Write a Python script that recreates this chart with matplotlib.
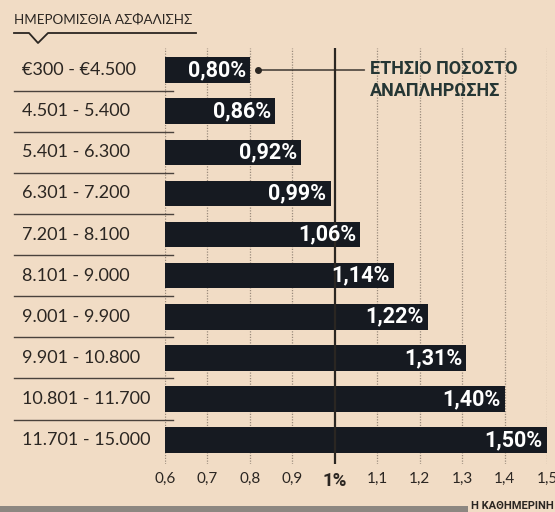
import matplotlib.pyplot as plt
from matplotlib.lines import Line2D
from matplotlib.patches import Rectangle
import matplotlib.transforms as mtransforms

# data
ranges = ['€300 - €4.500', '4.501 - 5.400', '5.401 - 6.300', '6.301 - 7.200',
          '7.201 - 8.100', '8.101 - 9.000', '9.001 - 9.900', '9.901 - 10.800',
          '10.801 - 11.700', '11.701 - 15.000']
rates = [0.80, 0.86, 0.92, 0.99, 1.06, 1.14, 1.22, 1.31, 1.40, 1.50]
tick_values = [0.6, 0.7, 0.8, 0.9, 1.0, 1.1, 1.2, 1.3, 1.4, 1.5]
tick_labels = ['0,6', '0,7', '0,8', '0,9', '1%', '1,1', '1,2', '1,3', '1,4', '1,5']

BG = '#f1dcc5'
BAR = '#161a21'
INK = '#2b2622'
FONT = 'Lato'
BOLD = 'Roboto'

W, H = 555, 512
fig = plt.figure(figsize=(W / 100, H / 100), dpi=100, facecolor=BG)

# axes spans pixel x 165..547, y 48..464
ax = fig.add_axes([165 / W, 1 - 464 / H, (547 - 165) / W, (464 - 48) / H])
ax.set_facecolor(BG)
ax.set_xlim(0.6, 1.5)
ax.set_ylim(9.58, -0.535)
for s in ax.spines.values():
    s.set_visible(False)

# dotted grid
for v in tick_values:
    if v != 1.0:
        ax.axvline(v, color='#9a8b7c', lw=0.9, ls=(0, (1, 1.2)), zorder=1)
ax.axvline(1.0, ymin=0, ymax=1, color='#2a2622', lw=1.6, zorder=3)

ypos = list(range(len(rates)))
ax.barh(ypos, [r - 0.6 for r in rates], left=0.6, height=0.62,
        color=BAR, zorder=2)

for y, r in zip(ypos, rates):
    ax.annotate(f'{r:.2f}%'.replace('.', ','), xy=(r, y), xytext=(-3, 0),
                textcoords='offset points', ha='right', va='center',
                color='white', fontsize=15.5, fontweight='bold',
                family=BOLD, zorder=4)

ax.set_yticks([])
ax.set_xticks(tick_values)
ax.set_xticklabels(tick_labels, family=FONT, color=INK, fontsize=11)
ax.tick_params(axis='x', length=0, pad=6)
for lab in ax.get_xticklabels():
    if lab.get_text() == '1%':
        lab.set_fontweight('bold')
        lab.set_family(BOLD)
        lab.set_fontsize(13.5)

# row labels and separators on the left
trans = mtransforms.blended_transform_factory(fig.transFigure, ax.transData)
for y, name in zip(ypos, ranges):
    ax.text(22 / W, y, name, transform=trans, ha='left', va='center',
            fontsize=13, color=INK, family=FONT)
    if y < len(ranges) - 1:
        ax.add_line(Line2D([14 / W, 173 / W], [y + 0.5, y + 0.5],
                           transform=trans, color='#4a423c', lw=1.0,
                           clip_on=False))

# header with notched underline
fig.text(14 / W, 1 - 20 / H, 'ΗΜΕΡΟΜΙΣΘΙΑ ΑΣΦΑΛΙΣΗΣ', ha='left', va='center',
         fontsize=9.7, color=INK, family=FONT)
fig.add_artist(Line2D([14 / W, 29 / W, 38 / W, 48 / W, 196 / W],
                      [1 - 33 / H, 1 - 33 / H, 1 - 43 / H, 1 - 33 / H, 1 - 33 / H],
                      color=INK, lw=1.3))

# callout for the 1% line
ax.plot([0.82], [0], marker='o', ms=4, color=INK, zorder=5)
ax.annotate('', xy=(0.82, 0), xytext=(1.07, 0),
            arrowprops=dict(arrowstyle='-', color=INK, lw=1.0,
                            shrinkA=0, shrinkB=0), zorder=5)
ax.text(370 / W, 1 - 80 / H, 'ΕΤΗΣΙΟ ΠΟΣΟΣΤΟ\nΑΝΑΠΛΗΡΩΣΗΣ', ha='left',
        va='center', fontsize=13, fontweight='bold', color='#253634',
        family=BOLD, linespacing=1.3, zorder=5, transform=fig.transFigure)

# bottom band with source
fig.add_artist(Rectangle((0, 0), 468 / W, 6 / H, transform=fig.transFigure,
                         color='#8d8781', lw=0))
fig.text(471 / W, 6 / H, 'Η ΚΑΘΗΜΕΡΙΝΗ', ha='left', va='center',
         fontsize=8, fontweight='bold', color=INK, family=BOLD)

fig.savefig('out.png', dpi=100, facecolor=BG)
